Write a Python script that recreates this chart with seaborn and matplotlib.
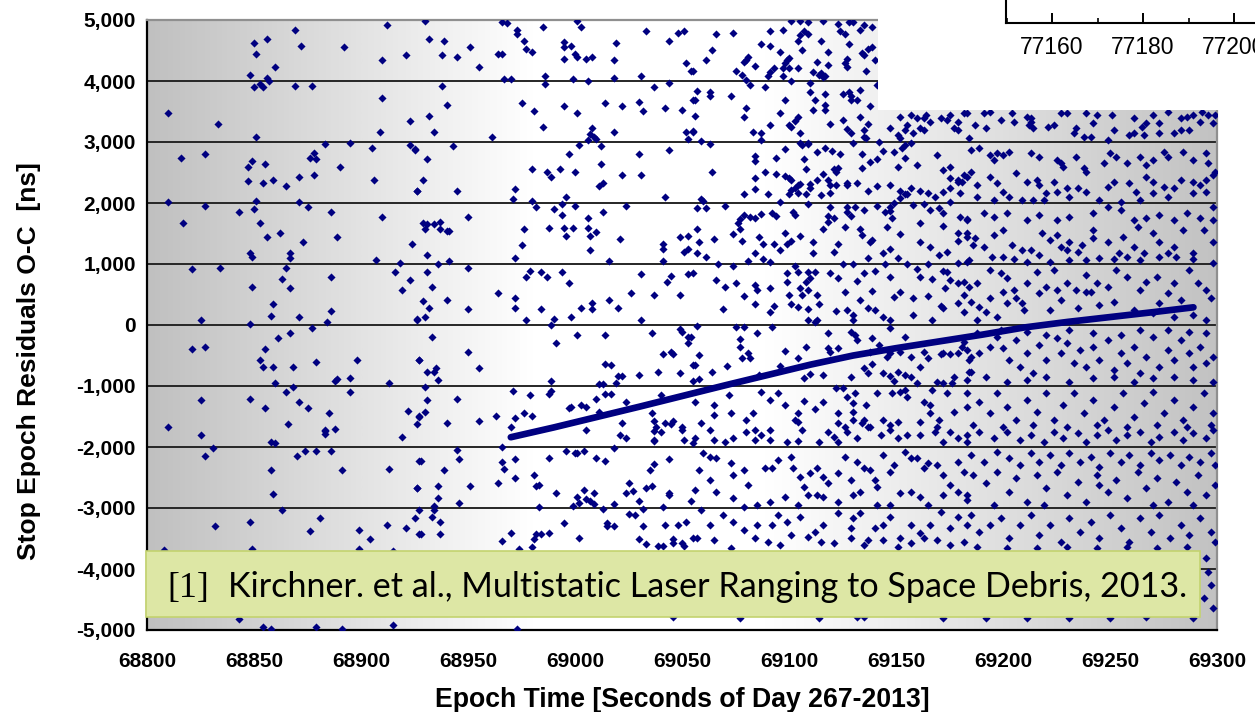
import numpy as np
import pandas as pd
import matplotlib
matplotlib.use("Agg")
import matplotlib.pyplot as plt
from matplotlib.colors import LinearSegmentedColormap
from matplotlib.patches import Rectangle
from matplotlib.ticker import FuncFormatter, MultipleLocator
import seaborn as sns

# ---------------- data: (epoch time [s of day], O-C residual [ns]) ----------------
# sparse returns, 68800-68930 s
band_a = [
    (68912, 4918), (68869, 4836), (68850, 4628), (68856, 4683), (68872, 4574), (68892, 4552), (68851, 4443),
    (68910, 4344), (68921, 4421), (68860, 4235), (68848, 4104), (68856, 4055), (68857, 4000), (68853, 3951),
    (68850, 3896), (68854, 3896), (68869, 3924), (68877, 3924), (68910, 3716), (68810, 3481), (68833, 3295),
    (68923, 3350), (68909, 3164), (68851, 3082), (68883, 2962), (68895, 2984), (68905, 2902), (68923, 2956),
    (68925, 2874), (68816, 2743), (68827, 2798), (68878, 2825), (68876, 2743), (68879, 2716), (68849, 2694),
    (68855, 2640), (68847, 2585), (68890, 2585), (68871, 2432), (68878, 2459), (68847, 2355), (68854, 2328),
    (68859, 2383), (68865, 2273), (68906, 2383), (68926, 2197), (68810, 2011), (68851, 2038), (68827, 1957),
    (68871, 2011), (68875, 1929), (68843, 1853), (68850, 1907), (68886, 1853), (68910, 1776), (68817, 1667),
    (68853, 1667), (68856, 1438), (68862, 1514), (68873, 1356), (68889, 1438), (68924, 1329), (68848, 1176),
    (68849, 1121), (68867, 1176), (68867, 1094), (68907, 1072), (68918, 1017), (68821, 913), (68834, 941),
    (68865, 941), (68916, 864), (68886, 782), (68863, 755), (68923, 733), (68849, 629), (68867, 602),
    (68919, 575), (68859, 340), (68886, 236), (68858, 154), (68871, 127), (68825, 77), (68848, 23), (68884, 50),
    (68926, 83), (68877, -54), (68867, -136), (68861, -212), (68821, -393), (68827, -365), (68855, -393),
    (68853, -573), (68854, -682), (68859, -682), (68868, -682), (68879, -606), (68898, -573), (68927, -573),
    (68888, -917), (68889, -890), (68895, -862), (68860, -944), (68913, -944), (68868, -1021), (68865, -1097),
    (68895, -1097), (68825, -1234), (68848, -1207), (68871, -1256), (68855, -1365), (68875, -1365),
    (68885, -1442), (68922, -1414), (68927, -1496), (68810, -1677), (68866, -1622), (68883, -1720),
    (68888, -1704), (68926, -1622), (68825, -1807), (68883, -1736), (68883, -1791), (68919, -1835),
    (68858, -1911), (68860, -1938), (68831, -2020), (68827, -2152), (68870, -2152), (68874, -2070),
    (68879, -2070), (68886, -2070), (68927, -2223), (68858, -2381), (68891, -2381), (68913, -2354),
    (68926, -2671), (68859, -2774), (68863, -3037), (68832, -3299), (68848, -3223), (68881, -3168),
    (68876, -3381), (68899, -3354), (68904, -3512), (68912, -3272), (68921, -3326), (68925, -3168),
    (68927, -3037), (68927, -3430), (68808, -3687), (68849, -3665), (68899, -3665), (68915, -3703),
    (68843, -4818), (68854, -4949), (68858, -4976), (68879, -4949), (68891, -4976), (68915, -4922),
]

# 68925-69055 s
band_b = [
    (68930, 4990), (68966, 4973), (68968, 4945), (68973, 4836), (68973, 4765), (69001, 4990), (68985, 4891),
    (69003, 4891), (68932, 4683), (68939, 4656), (68951, 4552), (68964, 4443), (68966, 4443), (68976, 4656),
    (68977, 4525), (68980, 4470), (68995, 4634), (68995, 4552), (68998, 4580), (68995, 4366), (69000, 4443),
    (69001, 4394), (69005, 4366), (69008, 4394), (69019, 4628), (69018, 4339), (69033, 4814), (69044, 4656),
    (69048, 4781), (69051, 4814), (68938, 4421), (68945, 4394), (68955, 4235), (69052, 4290), (69054, 4159),
    (68967, 4027), (68970, 4027), (68986, 4082), (68986, 3951), (68999, 4027), (69006, 4000), (69018, 4055),
    (69031, 4082), (68938, 3924), (69037, 3896), (69044, 3973), (68940, 3607), (68975, 3634), (68981, 3503),
    (68995, 3585), (69001, 3476), (69014, 3634), (69022, 3585), (69030, 3661), (69032, 3503), (69042, 3557),
    (69050, 3530), (69055, 3689), (68932, 3426), (68934, 3164), (68961, 3088), (68985, 3241), (69008, 3224),
    (69007, 3137), (69009, 3082), (69010, 3055), (69006, 3033), (69018, 3164), (69052, 3164), (69055, 3164),
    (69053, 3055), (68925, 2880), (68943, 2929), (69002, 2951), (69012, 2929), (68931, 2716), (68997, 2798),
    (69030, 2798), (69044, 2874), (68980, 2563), (68987, 2514), (68989, 2432), (68993, 2563), (69000, 2514),
    (69012, 2645), (69022, 2459), (69031, 2459), (68929, 2383), (68926, 2197), (68945, 2197), (68972, 2224),
    (68971, 2066), (68980, 2038), (68996, 2093), (69011, 2273), (69013, 2328), (69042, 2093), (68982, 1929),
    (68990, 1907), (68994, 1984), (69000, 1957), (69024, 1957), (68950, 1776), (68994, 1804), (69006, 1749),
    (69013, 1853), (68929, 1667), (68931, 1650), (68934, 1650), (68937, 1694),
    (68930, 1569), (68937, 1569), (68940, 1542), (68941, 1542), (68976, 1569), (68988, 1596), (68995, 1596),
    (68999, 1596), (69006, 1596), (68996, 1465), (69007, 1465), (69010, 1520), (69021, 1411), (68975, 1307),
    (69007, 1225), (69041, 1334), (69041, 1252), (69049, 1438), (69053, 1465), (69051, 1203), (69053, 1252),
    (68931, 1148), (68972, 1099), (68936, 995), (68941, 1044), (69016, 1044), (69041, 1044), (68931, 864),
    (68950, 941), (68977, 782), (68979, 891), (68984, 864), (68987, 782), (68994, 864), (68997, 684),
    (69031, 837), (69045, 809), (69043, 706), (69053, 837), (68933, 629), (68929, 394), (68932, 285),
    (68940, 416), (68964, 525), (68972, 443), (68972, 285), (68950, 258), (68984, 258), (69003, 285),
    (69008, 367), (69008, 258), (69016, 416), (69020, 285), (69026, 525), (69037, 498), (69049, 498),
    (68926, 105), (68930, 127), (68977, 77), (68990, 105), (68989, -4), (68998, 127), (69031, 77),
    (68933, -190), (68991, -294), (69001, -163), (69014, -163), (69036, -136), (69049, -59), (69050, -108),
    (69053, -190), (69053, -294), (68927, -573), (68950, -447), (68931, -764), (68934, -764), (68935, -710),
    (68936, -895), (68955, -710), (69014, -633), (69017, -660), (68989, -917), (69020, -840), (69022, -840),
    (69019, -950), (69030, -813), (69039, -764), (69045, -447), (69046, -475), (69041, -475), (69049, -791),
    (69055, -660), (69055, -917), (69011, -972), (69013, -972), (68930, -1021), (68971, -1075),
    (68979, -1152), (68989, -1075), (68988, -1130), (69014, -1130), (69017, -1130), (69010, -1207),
    (69024, -1261), (69040, -1152), (68931, -1234), (68945, -1207), (68930, -1420), (68927, -1502),
    (68940, -1600), (68955, -1573), (68963, -1496), (68972, -1524), (68976, -1442), (68980, -1496),
    (68970, -1677), (68998, -1338), (68997, -1365), (69003, -1311), (69005, -1338), (69011, -1420),
    (69022, -1600), (69036, -1442), (69037, -1573), (69042, -1600), (69045, -1627), (69046, -1573),
    (69038, -1677), (69050, -1677),
    (69005, -1720), (69021, -1802), (69024, -1857), (69037, -1736), (69040, -1747), (69037, -1906),
    (69037, -1878), (69050, -1720), (69051, -1884), (69055, -1939), (68945, -2042), (68966, -1993),
    (68996, -2070), (69000, -2097), (69001, -2097), (69004, -2070), (69018, -2020), (68928, -2223),
    (68946, -2201), (68966, -2250), (68967, -2354), (68972, -2201), (68988, -2173), (69010, -2173),
    (69014, -2223), (69044, -2201), (69037, -2277), (69035, -2381), (68939, -2381), (68972, -2512),
    (68981, -2463), (68926, -2671), (68936, -2643), (68951, -2643), (68964, -2594), (68982, -2643),
    (68983, -2616), (68991, -2753), (69004, -2698), (69001, -2824), (69005, -2856), (69007, -2884),
    (69009, -2939), (69009, -2753), (69025, -2589), (69024, -2753), (69027, -2725), (69033, -2671),
    (69036, -2643), (69044, -2753), (69044, -2786), (69030, -2884), (69054, -2884), (68936, -2829),
    (68946, -2911), (68934, -2960), (68934, -3031), (68999, -2960), (69002, -2922), (68983, -2988),
    (69018, -2933), (69013, -3015), (69041, -2988), (69032, -3010), (69025, -3091), (69028, -3119),
    (68933, -3146), (68937, -3228), (68995, -3250), (69015, -3250), (69015, -3299), (69018, -3299),
    (69032, -3299), (69042, -3272), (69048, -3272), (69052, -3223), (68928, -3430), (68937, -3430),
    (68970, -3408), (68966, -3539), (68982, -3430), (68984, -3430), (68981, -3512), (68988, -3408),
    (69002, -3485), (69030, -3512), (69033, -3589), (69041, -3616), (69039, -3616), (69046, -3512),
    (69046, -3567), (69050, -3567), (69051, -3616), (69055, -3485), (68980, -3643), (68974, -3670),
    (68973, -4985), (69046, -4791),
]

# 69055-69185 s
band_c = [
    (69101, 4990), (69105, 4990), (69109, 4973), (69116, 4990), (69123, 4929), (69128, 4962), (69130, 4973),
    (69135, 4918), (69139, 4891), (69066, 4765), (69074, 4792), (69091, 4820), (69097, 4836), (69107, 4820),
    (69109, 4765), (69105, 4754), (69104, 4661), (69124, 4820), (69126, 4765), (69133, 4836), (69115, 4661),
    (69087, 4607), (69091, 4580), (69128, 4607), (69064, 4503), (69061, 4344), (69096, 4476), (69106, 4503),
    (69118, 4476), (69134, 4459), (69137, 4525), (69139, 4552), (69135, 4426), (69140, 4344), (69127, 4366),
    (69126, 4290), (69127, 4235), (69080, 4344), (69081, 4394), (69079, 4317), (69099, 4344), (69100, 4372),
    (69098, 4290), (69084, 4240), (69113, 4317), (69118, 4262), (69055, 4170), (69075, 4159), (69078, 4104),
    (69090, 4082), (69091, 4148), (69093, 4208), (69097, 4208), (69100, 4208), (69104, 4208), (69097, 4088),
    (69111, 4142), (69114, 4098), (69116, 4071), (69117, 4088), (69115, 4126), (69136, 4159), (69101, 3995),
    (69110, 3967), (69082, 3929), (69080, 4011), (69089, 3902), (69141, 3929), (69057, 3842), (69063, 3825),
    (69063, 3754), (69056, 3689), (69073, 3754), (69098, 3694), (69110, 3820), (69112, 3689), (69117, 3792),
    (69117, 3607), (69117, 3530), (69125, 3792), (69128, 3820), (69129, 3754), (69133, 3847), (69129, 3694),
    (69132, 3689), (69111, 3530), (69138, 3590), (69080, 3557), (69079, 3405), (69096, 3481), (69056, 3432),
    (69100, 3273), (69103, 3350), (69104, 3405), (69101, 3246), (69091, 3273), (69119, 3301), (69125, 3355),
    (69127, 3219), (69129, 3142), (69133, 3405), (69137, 3301), (69135, 3197), (69135, 3088), (69136, 3060),
    (69055, 3175), (69083, 3170), (69087, 3142), (69087, 3033), (69105, 3142), (69105, 2978), (69109, 2978),
    (69059, 3017), (69063, 2962), (69142, 2995),
    (69147, 3224), (69151, 3115), (69154, 3197), (69158, 3142), (69155, 3279), (69152, 3060), (69154, 2951),
    (69157, 2978), (69152, 3415), (69157, 3443), (69160, 3388), (69164, 3443), (69166, 3333), (69163, 3388),
    (69161, 3224), (69163, 3197), (69171, 3388), (69174, 3361), (69177, 3224), (69179, 3333), (69182, 3470),
    (69175, 3443), (69179, 3197), (69184, 3060), (69169, 2787), (69160, 2623), (69172, 2541), (69175, 2595),
    (69175, 2404), (69179, 2377), (69182, 2459), (69181, 2350), (69153, 2896), (69154, 2732), (69151, 2595),
    (69149, 2842), (69144, 2853),
    (69098, 2880), (69106, 2951), (69109, 2962), (69113, 2831), (69117, 2907), (69120, 2853), (69124, 2809),
    (69130, 2984), (69134, 2809), (69138, 2678), (69141, 2722), (69134, 2580), (69084, 2771), (69084, 2694),
    (69094, 2743), (69107, 2722), (69108, 2563), (69116, 2481), (69122, 2514), (69121, 2552), (69123, 2580),
    (69127, 2295), (69118, 2377), (69119, 2295), (69064, 2514), (69089, 2514), (69094, 2475), (69098, 2448),
    (69100, 2415), (69101, 2377), (69103, 2252), (69104, 2295), (69105, 2306), (69110, 2306), (69110, 2252),
    (69101, 2213), (69104, 2159), (69100, 2148), (69108, 2148), (69084, 2405), (69084, 2230), (69079, 2148),
    (69090, 2148), (69113, 2377), (69115, 2131), (69119, 2159), (69122, 2295), (69127, 2323), (69132, 2323),
    (69137, 2197), (69141, 2284), (69147, 2295), (69152, 2197), (69154, 2142), (69157, 2241), (69161, 2197),
    (69165, 2159), (69168, 2104), (69172, 2186), (69175, 2241), (69179, 2350), (69059, 2060), (69060, 2038),
    (69057, 1924), (69061, 1924), (69070, 1957), (69096, 2011), (69094, 1787), (69087, 1820), (69082, 1765),
    (69084, 1760), (69079, 1804), (69077, 1733), (69092, 1831), (69102, 1847), (69103, 1804), (69109, 1984),
    (69119, 1935), (69118, 1787), (69121, 1760), (69127, 1940), (69127, 1858), (69129, 1787), (69131, 1940),
    (69135, 1885), (69141, 1946), (69145, 1847), (69147, 1940), (69147, 1869), (69148, 1760), (69149, 1995),
    (69152, 2088), (69155, 2142), (69158, 1967), (69163, 1978), (69166, 1885), (69170, 1924), (69172, 1831),
    (69175, 2022), (69180, 1776), (69183, 1738),
    (69057, 1569), (69076, 1667), (69074, 1493), (69077, 1569), (69078, 1383), (69058, 1356), (69057, 1176),
    (69061, 1121), (69065, 1411), (69084, 1176), (69086, 1438), (69088, 1329), (69093, 1329), (69096, 1230),
    (69098, 1514), (69099, 1329), (69101, 1383), (69105, 1465), (69111, 1356), (69111, 1176), (69116, 1569),
    (69118, 1695), (69121, 1203), (69123, 1329), (69126, 1613), (69133, 1569), (69134, 1476), (69138, 1356),
    (69139, 1394), (69146, 1613), (69147, 1241), (69144, 1176), (69152, 1493), (69161, 1667), (69161, 1361),
    (69166, 1285), (69170, 1143), (69172, 1624), (69174, 1203), (69179, 1383), (69179, 1504), (69183, 1449),
    (69067, 995), (69074, 968), (69081, 1044), (69088, 1077), (69091, 1033), (69103, 968), (69099, 859),
    (69104, 875), (69109, 864), (69112, 864), (69119, 859), (69125, 995), (69130, 995), (69137, 1099),
    (69135, 848), (69140, 891), (69145, 995), (69151, 1099), (69155, 995), (69160, 913), (69165, 995),
    (69172, 891), (69179, 1022), (69183, 1039), (69174, 875), (69055, 859), (69066, 738), (69070, 629),
    (69075, 684), (69084, 657), (69085, 574), (69091, 602), (69099, 711), (69105, 602), (69108, 706),
    (69110, 766), (69109, 574), (69113, 493), (69123, 766), (69126, 547), (69132, 728), (69139, 564),
    (69147, 793), (69152, 547), (69161, 782), (69167, 760), (69175, 738), (69179, 684), (69173, 602),
    (69184, 629), (69079, 476), (69084, 345), (69091, 219), (69093, 312), (69100, 493), (69101, 345),
    (69104, 290), (69106, 493), (69109, 258), (69114, 340), (69122, 236), (69127, 247), (69130, 165),
    (69133, 410), (69137, 274), (69140, 247), (69144, 137), (69147, 83), (69149, 465), (69158, 438),
    (69158, 165), (69165, 476), (69167, 83), (69171, 312), (69172, 274), (69179, 356), (69182, 493),
    (69069, 258), (69109, 83), (69112, 55), (69113, 83), (69130, 83), (69147, -54), (69057, -9), (69075, -26),
    (69079, -26), (69092, -26), (69077, -234), (69077, -354), (69081, -453), (69082, -546), (69085, -136),
    (69078, -546), (69098, -420), (69104, -546), (69108, -354), (69118, -136), (69118, -382), (69119, -436),
    (69123, -382), (69129, -108), (69131, -163), (69132, -245), (69139, -218), (69138, -436), (69142, -327),
    (69146, -518), (69147, -464), (69152, -436), (69154, -190), (69157, -518), (69163, -436), (69165, -546),
    (69171, -475), (69172, -464), (69175, -475), (69179, -464), (69181, -354), (69183, -409), (69184, -573),
    (69161, -682), (69054, -190), (69058, -491), (69056, -660), (69058, -890), (69064, -764), (69071, -666),
    (69086, -819), (69096, -671), (69107, -873), (69110, -802), (69116, -819), (69122, -1037), (69125, -1037),
    (69129, -846), (69135, -710), (69137, -791), (69139, -638), (69144, -791), (69147, -835), (69149, -917),
    (69151, -764), (69154, -819), (69154, -1064), (69157, -846), (69160, -955), (69169, -939), (69172, -955),
    (69176, -944), (69177, -857), (69184, -764), (69056, -1256), (69065, -1311), (69065, -1474),
    (69073, -1447), (69072, -1147), (69083, -1447), (69087, -1092), (69091, -1229), (69095, -1119),
    (69098, -1311), (69104, -1436), (69104, -1584), (69107, -1240), (69112, -1382), (69116, -1256),
    (69123, -1447), (69127, -1174), (69130, -1283), (69131, -1119), (69130, -1420), (69130, -1556),
    (69135, -1556), (69136, -1311), (69141, -1119), (69144, -1556), (69148, -1119), (69152, -1092),
    (69155, -1174), (69163, -1256), (69166, -1311), (69167, -1065), (69174, -1119), (69177, -1420),
    (69183, -1338), (69166, -1447), (69170, -1556), (69059, -1611), (69080, -1556), (69084, -1720),
    (69103, -1556), (69123, -1600), (69126, -1666), (69134, -1611), (69138, -1677), (69147, -1638),
    (69151, -1584), (69161, -1584), (69169, -1666),
    (69056, -1857), (69063, -1720), (69065, -1884), (69070, -1911), (69074, -1857), (69080, -1747),
    (69084, -1884), (69087, -1802), (69091, -1720), (69091, -1884), (69099, -1911), (69104, -1900),
    (69106, -1720), (69114, -1911), (69118, -1747), (69121, -1829), (69123, -1911), (69127, -1747),
    (69132, -1857), (69137, -1665), (69143, -1802), (69147, -1720), (69151, -1857), (69155, -1802),
    (69161, -1802), (69168, -1747), (69175, -1747), (69172, -1911), (69179, -1857), (69183, -1911),
    (69060, -2102), (69063, -2157), (69066, -2184), (69073, -2266), (69074, -2458), (69079, -2376),
    (69081, -2622), (69089, -2348), (69092, -2348), (69095, -2212), (69101, -2157), (69102, -2348),
    (69105, -2485), (69107, -2649), (69110, -2430), (69113, -2348), (69116, -2485), (69118, -2594),
    (69123, -2430), (69126, -2157), (69129, -2540), (69132, -2239), (69135, -2348), (69138, -2376),
    (69140, -2540), (69141, -2649), (69144, -2130), (69147, -2403), (69149, -2294), (69154, -2075),
    (69157, -2184), (69160, -2184), (69163, -2348), (69165, -2266), (69169, -2294), (69172, -2458),
    (69175, -2622), (69179, -2239), (69182, -2403), (69058, -2376), (69063, -2540), (69056, -2703),
    (69066, -2731), (69074, -2840), (69079, -2977), (69085, -2949), (69091, -2895), (69098, -2813),
    (69104, -2949), (69109, -2785), (69113, -2785), (69116, -2813), (69123, -2895), (69130, -2785),
    (69133, -2731), (69141, -2949), (69147, -2949), (69152, -2758), (69157, -2731), (69161, -2813),
    (69165, -2949), (69172, -2785), (69179, -2731), (69183, -2867), (69059, -3031), (69063, -3277),
    (69069, -3113), (69074, -3223), (69079, -3359), (69085, -3277), (69092, -3277), (69095, -3113),
    (69099, -3223), (69105, -3141), (69112, -3387), (69116, -3277), (69123, -3086), (69129, -3332),
    (69130, -3168), (69133, -3086), (69137, -3523), (69140, -3332), (69144, -3277), (69147, -3141),
    (69152, -3496), (69157, -3277), (69161, -3414), (69166, -3277), (69171, -3059), (69175, -3332),
    (69179, -3141), (69183, -3277), (69057, -3496), (69065, -3523), (69073, -3660), (69084, -3496),
    (69090, -3550), (69096, -3605), (69101, -3441), (69109, -3468), (69115, -3550), (69121, -3578),
    (69129, -3496), (69135, -3605), (69144, -3523), (69151, -3632), (69157, -3578), (69163, -3496),
    (69169, -3523), (69175, -3605), (69182, -3550), (69077, -4796), (69114, -4807), (69132, -4780),
    (69135, -4780), (69172, -4796),
]

# densest returns, 69180-69300 s
band_d = [
    (69183, 3470), (69191, 3470), (69194, 3498), (69204, 3470), (69211, 3416), (69213, 3334), (69213, 3388),
    (69212, 3279), (69214, 3224), (69205, 3334), (69199, 3361), (69187, 3279), (69192, 3224), (69221, 3252),
    (69224, 3279), (69227, 3470), (69230, 3470), (69239, 3470), (69244, 3443), (69242, 3306), (69234, 3224),
    (69233, 3142), (69238, 3088), (69241, 3088), (69251, 3443), (69261, 3388), (69265, 3252), (69267, 3306),
    (69270, 3443), (69273, 3306), (69277, 3498), (69283, 3388), (69286, 3416), (69289, 3443), (69293, 3498),
    (69296, 3443), (69299, 3443), (69298, 3306), (69292, 3334), (69287, 3197), (69283, 3197), (69280, 3142),
    (69273, 3142), (69266, 3115), (69261, 3142), (69259, 3115), (69252, 3197), (69249, 3033),
    (69185, 2869), (69189, 2897), (69194, 2787), (69197, 2815), (69200, 2787), (69203, 2842), (69196, 2705),
    (69206, 2487), (69217, 2760), (69213, 2815), (69225, 2705), (69227, 2651), (69228, 2596), (69234, 2760),
    (69238, 2569), (69239, 2514), (69247, 2651), (69250, 2815), (69253, 2760), (69258, 2651), (69264, 2760),
    (69267, 2623), (69270, 2705), (69275, 2842), (69277, 2760), (69284, 2842), (69289, 2705), (69295, 2815),
    (69296, 2651), (69299, 2514), (69183, 2432), (69185, 2514), (69188, 2295), (69194, 2432), (69197, 2323),
    (69200, 2186), (69211, 2350), (69216, 2377), (69217, 2295), (69220, 2159), (69224, 2350), (69225, 2186),
    (69230, 2241), (69235, 2241), (69239, 2186), (69249, 2268), (69252, 2350), (69259, 2323), (69262, 2186),
    (69267, 2432), (69270, 2350), (69275, 2268), (69280, 2241), (69283, 2377), (69289, 2350), (69292, 2295),
    (69295, 2377), (69298, 2459), (69180, 2159), (69188, 2104), (69196, 2050), (69203, 2104), (69209, 2050),
    (69214, 2050), (69219, 2050), (69231, 2104), (69245, 2050), (69255, 2022), (69264, 2050), (69270, 2159),
    (69277, 2104), (69289, 2159), (69295, 2186), (69298, 1940), (69183, 1722), (69191, 1831), (69196, 1776),
    (69202, 1831), (69211, 1722), (69217, 1804), (69225, 1722), (69231, 1776), (69242, 1831), (69249, 1940),
    (69255, 1886), (69261, 1722), (69267, 1749), (69273, 1804), (69280, 1722), (69286, 1831), (69292, 1749),
    (69298, 1722),
    (69183, 1503), (69187, 1421), (69186, 1312), (69191, 1285), (69196, 1476), (69200, 1558), (69204, 1312),
    (69209, 1230), (69213, 1230), (69217, 1148), (69218, 1503), (69222, 1394), (69225, 1476), (69227, 1285),
    (69230, 1230), (69231, 1367), (69235, 1203), (69237, 1312), (69242, 1558), (69242, 1421), (69249, 1367),
    (69254, 1176), (69256, 1449), (69261, 1285), (69263, 1613), (69266, 1176), (69270, 1503), (69273, 1367),
    (69277, 1176), (69280, 1285), (69284, 1558), (69289, 1176), (69294, 1558), (69298, 1367), (69184, 1066),
    (69195, 1121), (69200, 1110), (69205, 1077), (69211, 1039), (69222, 1039), (69231, 1066), (69239, 1066),
    (69245, 1094), (69252, 1077), (69258, 1121), (69264, 1066), (69273, 1121), (69281, 1110), (69289, 1077),
    (69298, 1023), (69182, 711), (69188, 684), (69194, 902), (69199, 848), (69202, 766), (69205, 575),
    (69206, 438), (69209, 356), (69211, 684), (69216, 875), (69217, 520), (69220, 629), (69224, 902),
    (69225, 575), (69227, 411), (69230, 684), (69234, 575), (69239, 820), (69241, 547), (69244, 684),
    (69249, 629), (69253, 902), (69258, 793), (69264, 575), (69267, 711), (69272, 793), (69277, 520),
    (69280, 684), (69283, 411), (69287, 902), (69291, 684), (69295, 575), (69297, 438), (69185, 383),
    (69189, 301), (69192, 219), (69197, 137), (69202, 356), (69210, 247), (69222, 247), (69235, 274),
    (69245, 329), (69252, 383), (69261, 247), (69270, 192), (69280, 137), (69289, 165), (69295, 83),
    (69182, 219), (69188, 83), (69194, 438), (69200, 547), (69239, 547), (69273, 356),
    (69182, -272), (69185, -518), (69185, -764), (69189, -464), (69194, -354), (69197, -190), (69200, -382),
    (69203, -573), (69206, -245), (69208, -682), (69211, -464), (69214, -791), (69217, -327), (69220, -573),
    (69225, -218), (69227, -464), (69230, -300), (69233, -628), (69236, -409), (69239, -682), (69242, -354),
    (69245, -573), (69249, -245), (69252, -737), (69255, -464), (69258, -628), (69261, -354), (69264, -791),
    (69267, -518), (69270, -190), (69273, -682), (69277, -409), (69280, -573), (69283, -245), (69287, -464),
    (69289, -682), (69292, -354), (69295, -628), (69298, -518), (69183, -901), (69192, -846), (69202, -928),
    (69211, -901), (69220, -846), (69231, -928), (69242, -873), (69252, -846), (69261, -928), (69270, -873),
    (69280, -846), (69289, -901), (69298, -928), (69188, -136), (69199, -81), (69211, -108), (69220, -163),
    (69231, -81), (69242, -136), (69255, -163), (69264, -81), (69277, -81), (69287, -108), (69295, -136),
    (69183, -1119), (69189, -1256), (69194, -1447), (69197, -1119), (69202, -1338), (69206, -1556),
    (69211, -1229), (69216, -1420), (69220, -1119), (69224, -1556), (69228, -1311), (69233, -1119),
    (69238, -1447), (69242, -1229), (69247, -1556), (69252, -1338), (69256, -1119), (69261, -1502),
    (69266, -1283), (69270, -1092), (69275, -1447), (69280, -1229), (69284, -1556), (69289, -1338),
    (69294, -1119), (69298, -1447), (69186, -1638), (69200, -1666), (69214, -1638), (69230, -1666),
    (69244, -1638), (69258, -1666), (69272, -1638), (69286, -1666), (69297, -1638),
    (69183, -1802), (69189, -1747), (69196, -1857), (69202, -1747), (69208, -1884), (69213, -1802),
    (69219, -1911), (69224, -1747), (69228, -1857), (69235, -1775), (69239, -1911), (69244, -1802),
    (69249, -1720), (69253, -1884), (69258, -1802), (69264, -1747), (69269, -1911), (69273, -1829),
    (69280, -1747), (69284, -1884), (69289, -1775), (69295, -1857), (69298, -1720), (69185, -2130),
    (69191, -2239), (69197, -2075), (69203, -2184), (69208, -2294), (69213, -2102), (69217, -2239),
    (69222, -2130), (69227, -2294), (69231, -2102), (69236, -2239), (69241, -2157), (69245, -2321),
    (69250, -2102), (69255, -2239), (69259, -2130), (69264, -2294), (69269, -2102), (69273, -2212),
    (69278, -2130), (69283, -2294), (69287, -2157), (69292, -2239), (69297, -2102), (69299, -2294),
    (69186, -2458), (69192, -2594), (69197, -2403), (69203, -2731), (69206, -2512), (69211, -2895),
    (69216, -2458), (69220, -2676), (69225, -2403), (69230, -2785), (69235, -2567), (69239, -2895),
    (69244, -2458), (69249, -2731), (69253, -2540), (69258, -2840), (69263, -2403), (69267, -2676),
    (69272, -2512), (69277, -2895), (69281, -2567), (69286, -2731), (69291, -2458), (69295, -2785),
    (69299, -2622), (69183, -2785), (69196, -2949), (69219, -2949), (69245, -2622), (69270, -2949),
    (69289, -2949), (69185, -3113), (69189, -3387), (69194, -3277), (69199, -3168), (69203, -3496),
    (69208, -3277), (69213, -3113), (69217, -3441), (69222, -3277), (69227, -3550), (69231, -3168),
    (69236, -3387), (69241, -3223), (69245, -3496), (69250, -3113), (69255, -3332), (69259, -3550),
    (69264, -3168), (69269, -3387), (69273, -3113), (69278, -3496), (69283, -3277), (69287, -3441),
    (69292, -3168), (69297, -3387), (69299, -3550), (69188, -3632), (69202, -3660), (69216, -3660),
    (69230, -3632), (69244, -3660), (69258, -3632), (69272, -3660), (69286, -3632), (69295, -3824),
    (69296, -4042), (69297, -4261), (69294, -4479), (69298, -4643), (69192, -4796), (69211, -4807),
    (69231, -4807), (69250, -4796), (69267, -4780), (69289, -4807),
]

# the tracked object: dense run of returns following a smooth trend
curve_epoch = [68970, 68990, 69010, 69030, 69050, 69070, 69090, 69110, 69130, 69150,
               69170, 69190, 69210, 69230, 69250, 69270, 69289]
curve_resid = [-1840, -1680, -1510, -1340, -1165, -990, -820, -650, -500, -380,
               -270, -160, -40, 50, 130, 210, 290]

x_ticks = list(range(68800, 69301, 50))
y_ticks = list(range(-5000, 5001, 1000))
inset_ticks = [77160, 77180, 77200]

citation_ref = "[1]"
citation_text = "Kirchner. et al., Multistatic Laser Ranging to Space Debris, 2013."

# ---------------- figure ----------------
sns.set_theme(style="white")
plt.rcParams["font.family"] = ["Liberation Sans", "DejaVu Sans"]

W, H = 1255, 712
fig = plt.figure(figsize=(W / 100, H / 100), dpi=100)
fig.patch.set_facecolor("white")


def fx(px):
    return px / W


def fy(py):
    return 1 - py / H


ax = fig.add_axes([fx(147), fy(630), (1217 - 147) / W, (630 - 20) / H])

# horizontal grey-white-grey gradient fill of the plot area
grad_cmap = LinearSegmentedColormap.from_list(
    "plotarea", [(0.0, "#c0c0c0"), (0.36, "#ffffff"), (0.58, "#ffffff"), (1.0, "#c2c2c2")])
ax.imshow(np.linspace(0, 1, 512)[np.newaxis, :], extent=[68800, 69300, -5000, 5000],
          aspect="auto", cmap=grad_cmap, zorder=0, interpolation="bilinear")

frames = []
for name, pts in [("a", band_a), ("b", band_b), ("c", band_c), ("d", band_d)]:
    arr = np.array(pts, dtype=float)
    frames.append(pd.DataFrame({"epoch": arr[:, 0], "resid": arr[:, 1], "band": name}))
df = pd.concat(frames, ignore_index=True)
curve_df = pd.DataFrame({"epoch": curve_epoch, "resid": curve_resid})

navy = "#000080"
sns.scatterplot(data=df, x="epoch", y="resid", marker="D", s=17, color=navy,
                linewidth=0, ax=ax, zorder=3, legend=False)
sns.lineplot(data=curve_df, x="epoch", y="resid", color=navy, linewidth=4.8,
             ax=ax, zorder=4, legend=False, solid_capstyle="round")

ax.set_xlim(68800, 69300)
ax.set_ylim(-5000, 5000)
ax.set_xticks(x_ticks)
ax.set_yticks(y_ticks)
ax.yaxis.set_major_formatter(FuncFormatter(lambda v, p: f"{v:,.0f}"))
ax.xaxis.set_major_formatter(FuncFormatter(lambda v, p: f"{v:.0f}"))
for yv in y_ticks[1:-1]:
    ax.axhline(yv, color="#262626", linewidth=1.4, zorder=1)

ax.tick_params(axis="both", which="major", direction="out", length=5, width=1.3,
               color="black", labelsize=15, labelcolor="black")
ax.tick_params(axis="x", pad=11)
ax.tick_params(axis="y", pad=3)
for lab in ax.get_xticklabels() + ax.get_yticklabels():
    lab.set_fontweight("bold")

for side in ["left", "bottom"]:
    ax.spines[side].set_color("black")
    ax.spines[side].set_linewidth(1.6)
for side in ["top", "right"]:
    ax.spines[side].set_color("#8f8f8f")
    ax.spines[side].set_linewidth(1.6)

ax.set_xlabel("Epoch Time [Seconds of Day 267-2013]", fontsize=19.2, fontweight="bold",
              color="black", va="center")
ax.set_ylabel("Stop Epoch Residuals O-C  [ns]", fontsize=19, fontweight="bold",
              color="black", va="center")
ax.xaxis.set_label_coords(0.5, (630 - 700) / 610)
ax.yaxis.set_label_coords((29 - 147) / 1070, (630 - 361) / 610)

# blank panel in the upper right corner holding a neighbouring time axis
fig.add_artist(Rectangle((fx(878), fy(110)), fx(1255) - fx(878), 110 / H,
                         transform=fig.transFigure, facecolor="white", edgecolor="none", zorder=5))

ax2 = fig.add_axes([fx(1006), fy(23), (1300 - 1006) / W, 23 / H])
ax2.set_zorder(6)
ax2.patch.set_alpha(0)
ax2.set_xlim(77160 - 46 / 4.55, 77160 + (1300 - 1052) / 4.55)
ax2.set_ylim(0, 1)
ax2.set_xticks(inset_ticks)
ax2.xaxis.set_minor_locator(MultipleLocator(10))
ax2.set_yticks([])
ax2.xaxis.set_major_formatter(FuncFormatter(lambda v, p: f"{v:.0f}"))
for side in ["top", "right"]:
    ax2.spines[side].set_visible(False)
for side in ["left", "bottom"]:
    ax2.spines[side].set_color("black")
    ax2.spines[side].set_linewidth(1.5)
ax2.tick_params(axis="x", which="major", direction="in", length=7.5, width=1.4,
                color="black", labelsize=16.5, pad=9, labelcolor="black", bottom=True)
ax2.tick_params(axis="x", which="minor", direction="in", length=3.6, width=1.2,
                color="black", bottom=True)

# reference note box
fig.add_artist(Rectangle((fx(146), fy(617)), fx(1200) - fx(146), (617 - 551) / H,
                         transform=fig.transFigure, facecolor="#dde7a5", edgecolor="#c3d36e",
                         linewidth=1.2, zorder=7))
fig.text(fx(167), fy(597), citation_ref, fontsize=26, family=["Liberation Serif", "DejaVu Serif"],
         color="black", va="baseline", ha="left", zorder=8)
fig.text(fx(228), fy(597), citation_text, fontsize=24.6, family=["Lato", "DejaVu Sans"],
         color="black", va="baseline", ha="left", zorder=8)

fig.savefig("out.png", dpi=100, facecolor="white")
